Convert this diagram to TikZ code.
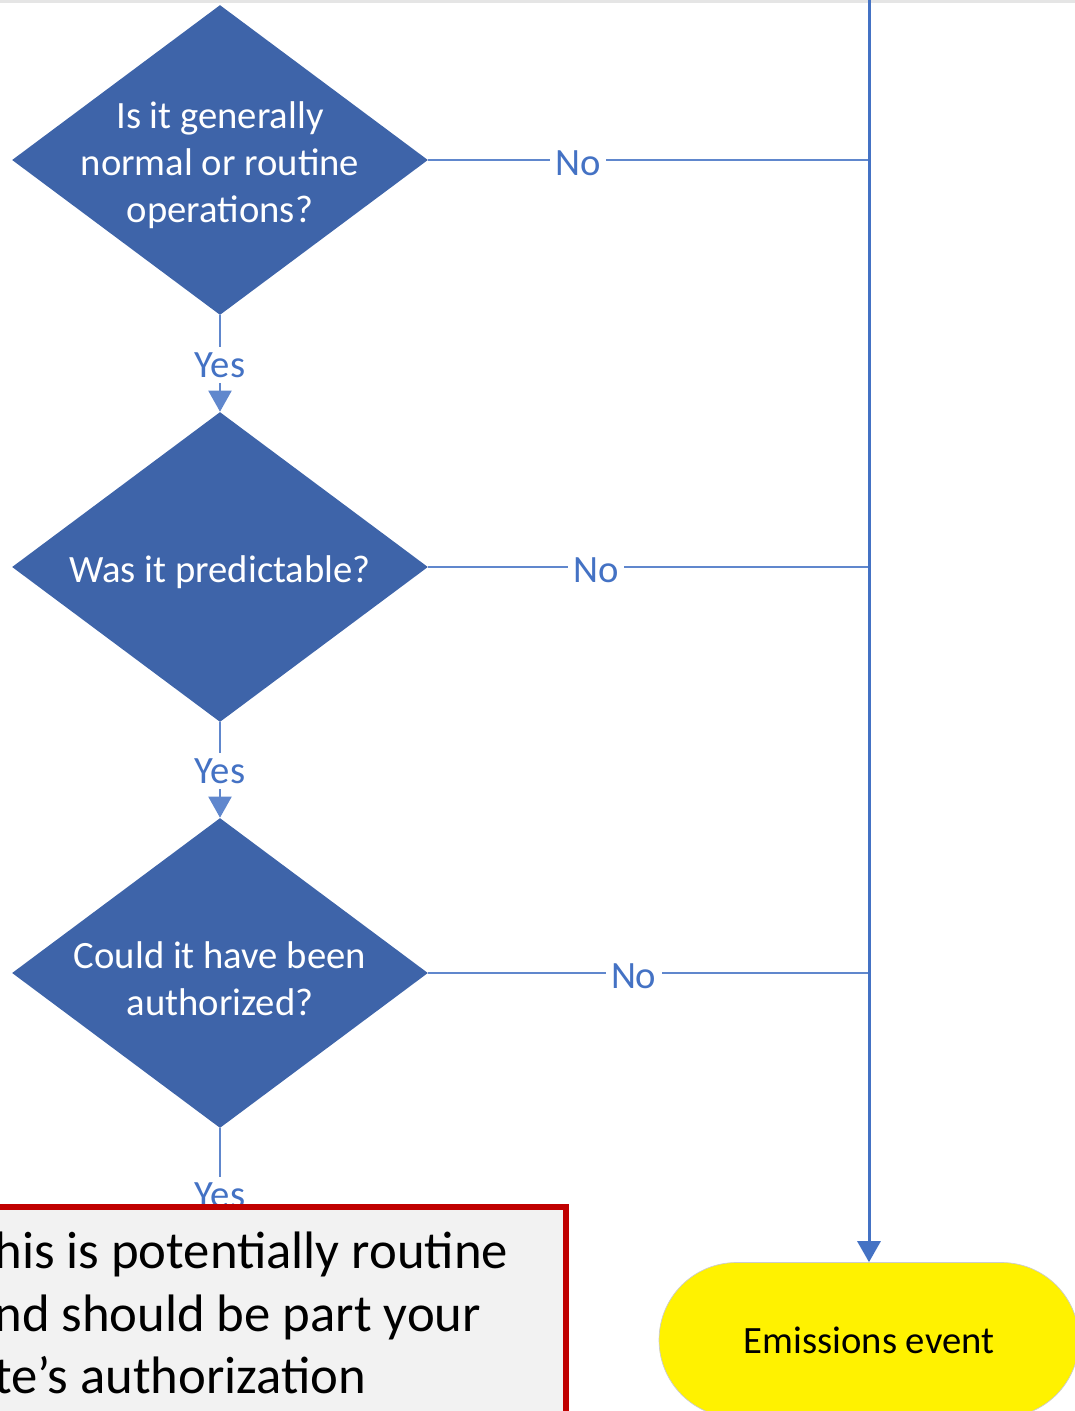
\documentclass[tikz,border=0pt]{standalone}
\usepackage{fontspec}
\setmainfont{Carlito}
\usetikzlibrary{shapes.geometric,arrows.meta}
\definecolor{qblue}{HTML}{3E64A9}
\definecolor{lblue}{HTML}{4472C4}
\definecolor{qred}{HTML}{C00000}

\begin{document}
\begin{tikzpicture}[x=0.02cm,y=-0.02cm]
    \tikzstyle{question}=[diamond,fill=qblue,minimum width=8.32cm,minimum height=6.2cm,inner sep=0pt]
    \tikzstyle{qtext}=[text=white,align=center,yshift=-3pt,font=\fontsize{22}{26.7}\selectfont]
    \tikzstyle{answer}=[text=lblue,fill=white,inner sep=3pt,font=\fontsize{22}{24}\selectfont]
    \tikzstyle{link}=[draw=lblue!85,line width=1.2pt]
    \tikzstyle{tip}=[-{Triangle[width=0.46cm,length=0.42cm]}]
    \useasboundingbox (0,0) rectangle (1075,1411);
    \fill[black!10] (0,0) rectangle (1075,3);
    \node[question,label={[qtext]center:Is it generally\\normal or routine\\operations?}] (q1) at (220,160) {};
    \node[question,label={[qtext]center:Was it predictable?}] (q2) at (220,567) {};
    \node[question,label={[qtext]center:Could it have been\\authorized?}] (q3) at (220,973) {};
    \node[answer] (y1) at (220,365) {Yes};
    \node[answer] (y2) at (220,771) {Yes};
    \node[answer] (y3) at (220,1195) {Yes};
    \node[rectangle,rounded corners=1.55cm,minimum width=8.4cm,minimum height=3.1cm,fill=yellow,draw=black!20,font=\fontsize{22}{24}\selectfont] (event) at (869,1340) {Emissions event};
    \coordinate (top) at (869,-2);
    \coordinate (j1) at (869,160);
    \coordinate (j2) at (869,567);
    \coordinate (j3) at (869,973);
    \draw[link] (q1.south) -- (y1.north);
    \draw[link,tip] (y1.south) -- (q2.north);
    \draw[link] (q2.south) -- (y2.north);
    \draw[link,tip] (y2.south) -- (q3.north);
    \draw[link] (q3.south) -- (y3.north);
    \draw[link] (q1.east) -- node[answer,pos=0.34,yshift=-2pt] (n1) {No} (j1);
    \draw[link] (q2.east) -- node[answer,pos=0.38,yshift=-2pt] (n2) {No} (j2);
    \draw[link] (q3.east) -- node[answer,pos=0.466,yshift=-2pt] (n3) {No} (j3);
    \draw[draw=lblue,line width=1.7pt,tip] (top) -- (event.north);
    %\draw (q3) -- (note);
    \draw[qred,line width=3.4pt,fill=black!5] (-20,1207) rectangle (566,1440);
    \node[anchor=north west,inner sep=0pt,align=left,font=\fontsize{30}{35.5}\selectfont] (note) at (-6,1232) {his is potentially routine\\nd should be part your\\te’s authorization};
\end{tikzpicture}
\end{document}
